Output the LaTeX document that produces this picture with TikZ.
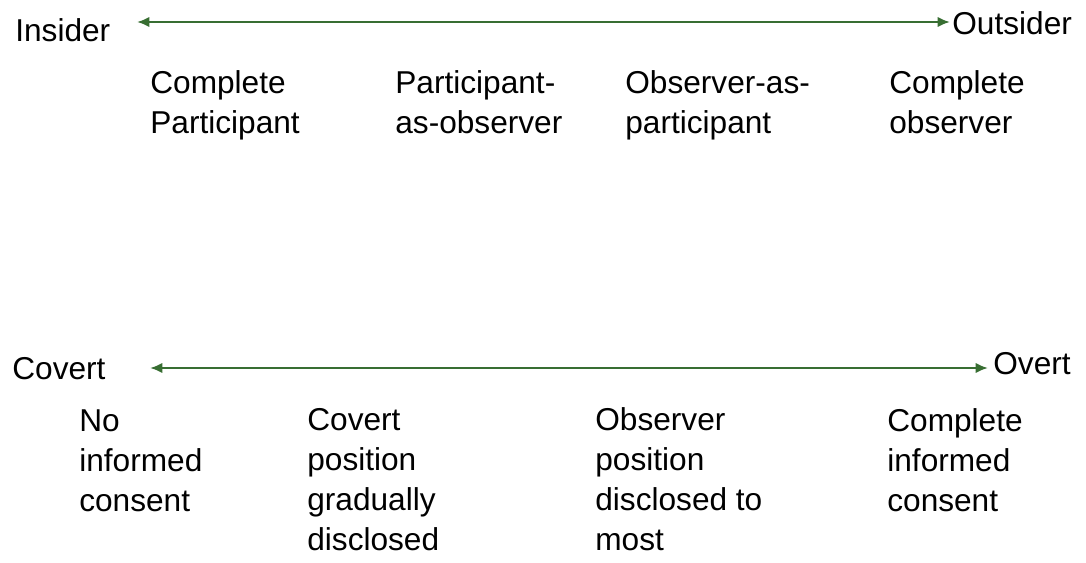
\documentclass[tikz,border=0pt]{standalone}
\usepackage{fontspec}
\setmainfont{Liberation Sans}
\usetikzlibrary{arrows.meta}
\definecolor{grn}{RGB}{56,110,50}
\begin{document}
\begin{tikzpicture}[x=0.02cm,y=-0.02cm,
  lbl/.style={anchor=base west,inner sep=0,align=left,font=\fontsize{18}{22.7}\selectfont},
  axis/.style={draw=grn,line width=1.6pt,{Latex[length=7pt,width=6pt]}-{Latex[length=7pt,width=6pt]}}]
\useasboundingbox (0,0) rectangle (1086,562);
\node[lbl] (ins) at (15,41) {Insider};
\node[lbl] (out) at (952,34) {Outsider};
\coordinate (a1) at (137,22);
\coordinate (a2) at (950,22);
\draw[axis] (a1) -- (a2);
\node[lbl] (t1) at (150,133) {Complete\\Participant};
\node[lbl] (t2) at (395,133) {Participant-\\as-observer};
\node[lbl] (t3) at (625,133) {Observer-as-\\participant};
\node[lbl] (t4) at (889,133) {Complete\\observer};
\node[lbl] (cov) at (12,379) {Covert};
\node[lbl] (ovt) at (993,374) {Overt};
\coordinate (b1) at (150,368);
\coordinate (b2) at (988,368);
\draw[axis] (b1) -- (b2);
\node[lbl] (c1) at (79,511) {No\\informed\\consent};
\node[lbl] (c2) at (307,550) {Covert\\position\\gradually\\disclosed};
\node[lbl] (c3) at (595,550) {Observer\\position\\disclosed to\\most};
\node[lbl] (c4) at (887,511) {Complete\\informed\\consent};
\end{tikzpicture}
\end{document}
